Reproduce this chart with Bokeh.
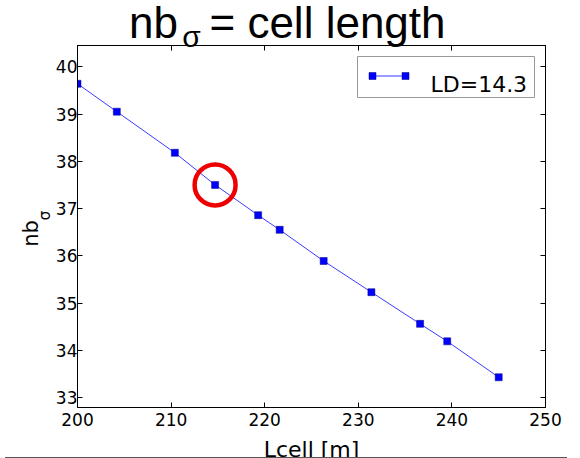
from bokeh.plotting import figure
from bokeh.models import Range1d, FixedTicker, Label, BoxAnnotation, LinearAxis, Div
from bokeh.layouts import column
from bokeh.embed import file_html
from bokeh.resources import INLINE

# data
lcell = [200.0, 204.2, 210.4, 214.7, 219.3, 221.6, 226.3, 231.4, 236.6, 239.5, 245.0]
nb_sigma = [39.64, 39.05, 38.18, 37.50, 36.86, 36.55, 35.89, 35.23, 34.56, 34.19, 33.43]
highlight_index = 3
x_ticks = [200, 210, 220, 230, 240, 250]
y_ticks = [33, 34, 35, 36, 37, 38, 39, 40]
legend_label = "LD=14.3"
title_main = ["nb", "= cell length"]
title_sub = "σ"
ylabel_main = "nb"
ylabel_sub = "σ"
xlabel = "Lcell [m]"

# page geometry of the plot box
FL, FT, FR, FB = 77, 45, 545, 407
W = 580
TOP_EXTRA = 11      # canvas rows hidden above the page top
BORDER_TOP = FT + TOP_EXTRA
BORDER_BOTTOM = 68
H = BORDER_TOP + (FB - FT) + BORDER_BOTTOM
RULE_Y = 452
BOTTOM_OVERLAP = (FB + BORDER_BOTTOM) - RULE_Y

p = figure(width=W, height=H, output_backend="svg", toolbar_location=None,
           x_range=Range1d(200, 250), y_range=Range1d(32.79, 40.45),
           min_border_left=FL, min_border_top=BORDER_TOP, min_border_right=W - FR,
           min_border_bottom=BORDER_BOTTOM, x_axis_location=None, y_axis_location=None,
           margin=(-TOP_EXTRA, 0, -BOTTOM_OVERLAP, 0))
p.extra_x_ranges = {"px": Range1d(0, FR - FL)}
p.extra_y_ranges = {"py": Range1d(0, FB - FT)}
p.grid.visible = False
p.outline_line_color = "black"
p.outline_line_width = 1
p.background_fill_color = "white"
p.border_fill_color = "white"

def style_axis(ax, labels=True):
    ax.major_tick_in = 5
    ax.major_tick_out = 0
    ax.minor_tick_line_color = None
    ax.axis_line_color = "black"
    ax.major_tick_line_color = "black"
    ax.major_label_text_font = "DejaVu Sans"
    ax.major_label_text_font_size = "17px"
    ax.major_label_text_color = "black"
    if not labels:
        ax.major_label_text_font_size = "0px"
        ax.major_label_text_alpha = 0
        ax.major_label_standoff = 0

def text_axis(ticks, texts, size, font, standoff, orient="horizontal", **kw):
    ax = LinearAxis(ticker=FixedTicker(ticks=ticks),
                    major_label_overrides=dict(zip(ticks, texts)), **kw)
    ax.axis_line_color = None
    ax.major_tick_line_color = None
    ax.minor_tick_line_color = None
    ax.major_tick_in = 0
    ax.major_tick_out = 0
    ax.major_label_text_font = font
    ax.major_label_text_font_size = size
    ax.major_label_text_color = "black"
    ax.major_label_standoff = standoff
    ax.major_label_orientation = orient
    return ax

xb = LinearAxis(ticker=FixedTicker(ticks=x_ticks)); style_axis(xb); xb.major_label_standoff = 5
xb.axis_label = xlabel
xb.axis_label_text_font = "DejaVu Sans"
xb.axis_label_text_font_size = "22px"
xb.axis_label_text_font_style = "normal"
xb.axis_label_text_color = "black"
xb.axis_label_standoff = 8
yl = LinearAxis(ticker=FixedTicker(ticks=y_ticks)); style_axis(yl); yl.major_label_standoff = 0
xt = LinearAxis(ticker=FixedTicker(ticks=x_ticks)); style_axis(xt, False)
yr = LinearAxis(ticker=FixedTicker(ticks=y_ticks)); style_axis(yr, False)

# title "nb_σ = cell length" carried by label-only axes
t_main = text_axis([76, 250], title_main, "44px", "Liberation Sans", -1, x_range_name="px")
t_sub = text_axis([114], [title_sub], "30px", "Liberation Sans", -58, x_range_name="px")
# y label "nb_σ"
y_sub = text_axis([192], [ylabel_sub], "15px", "DejaVu Sans", -1, "vertical", y_range_name="py")
y_main = text_axis([174], [ylabel_main], "21px", "DejaVu Sans", -10, "vertical", y_range_name="py")

p.add_layout(xt, "above")
p.add_layout(t_main, "above")
p.add_layout(t_sub, "above")
p.add_layout(yl, "left")
p.add_layout(y_sub, "left")
p.add_layout(y_main, "left")
p.add_layout(xb, "below")
p.add_layout(yr, "right")

p.line(lcell, nb_sigma, line_color="#3a3aff", line_width=1)
p.scatter(lcell, nb_sigma, marker="square", size=7, fill_color="#0000ff",
          line_color="#000080", line_width=0.5)
p.scatter([lcell[highlight_index]], [nb_sigma[highlight_index]], marker="circle",
          size=41, fill_color=None, line_color="#ee0000", line_width=4.5)

def sx(X):
    return X - FL

def sy(Y):
    return FB - Y

def sbox(l, r, t, b, **kw):
    return BoxAnnotation(left=sx(l), right=sx(r), top=sy(t), bottom=sy(b),
                         left_units="screen", right_units="screen",
                         top_units="screen", bottom_units="screen", **kw)

# legend (matplotlib style: line with a marker at each end)
p.add_layout(sbox(357, 534, 56, 97, fill_color="white", fill_alpha=1,
                  line_color="#999999", line_width=1, line_alpha=1))
p.add_layout(sbox(372, 405, 75, 76, fill_color="#3a3aff", fill_alpha=1, line_alpha=0))
for cx in (372, 405):
    p.add_layout(sbox(cx - 3.5, cx + 3.5, 72, 79, fill_color="#0000ff", fill_alpha=1,
                      line_color="#000080", line_width=0.5, line_alpha=1))
p.add_layout(Label(x=sx(430), y=sy(84), x_units="screen", y_units="screen",
                   text=legend_label, text_font="DejaVu Sans",
                   text_font_size="22px", text_color="black", text_baseline="alphabetic"))

rule = Div(text="", width=562, height=10,
           styles={"border-top": "1px solid #555555", "box-sizing": "border-box",
                   "background-color": "white", "position": "relative", "z-index": "10"})

open("out.html", "w").write(file_html(column(p, rule), INLINE))
